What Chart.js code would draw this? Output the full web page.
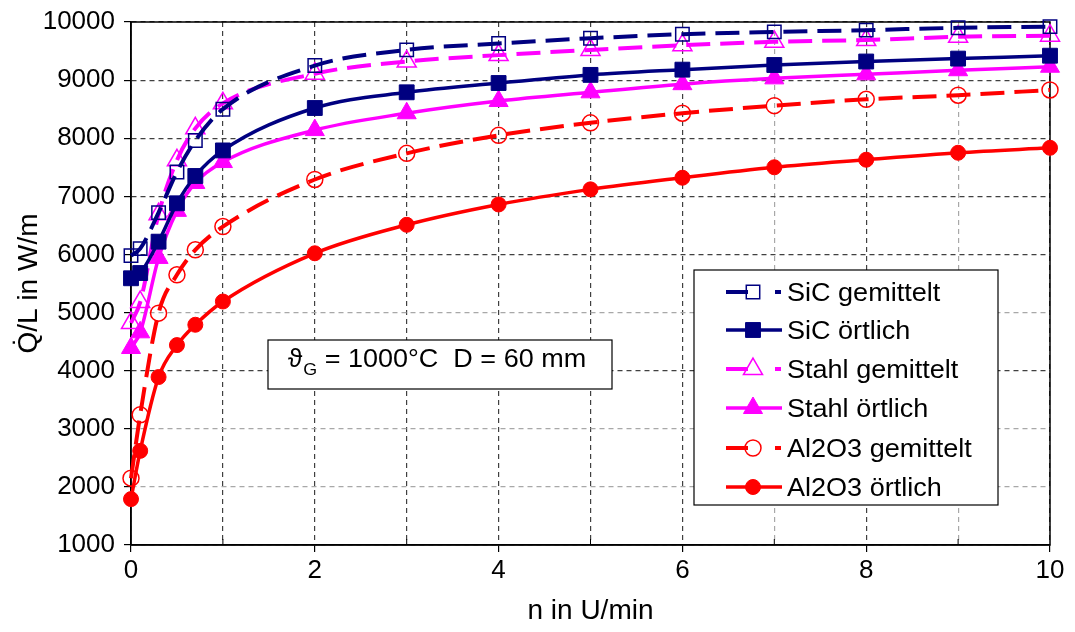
<!DOCTYPE html>
<html>
<head>
<meta charset="utf-8">
<script src="https://cdn.jsdelivr.net/npm/chart.js@4/dist/chart.umd.min.js"></script>
<style>
  html, body { margin: 0; padding: 0; background: #fff; }
  #wrap { width: 1075px; height: 632px; }
</style>
</head>
<body>
<div id="wrap"><canvas id="chart" width="1075" height="632"></canvas></div>
<script>
// Drehzahl n in U/min
const nValues = [0, 0.1, 0.3, 0.5, 0.7, 1, 2, 3, 4, 5, 6, 7, 8, 9, 10];

// Q/L in W/m
const sicGemittelt   = [5980, 6100, 6720, 7420, 7960, 8500, 9250, 9520, 9630, 9720, 9790, 9830, 9860, 9900, 9920];
const sicOertlich    = [5590, 5680, 6220, 6880, 7350, 7790, 8520, 8790, 8950, 9090, 9180, 9260, 9320, 9370, 9420];
const stahlGemittelt = [4820, 5180, 6690, 7620, 8170, 8600, 9110, 9320, 9430, 9520, 9600, 9660, 9690, 9745, 9765];
const stahlOertlich  = [4390, 4660, 5940, 6750, 7230, 7590, 8140, 8430, 8640, 8790, 8930, 9030, 9100, 9170, 9230];
const al2o3Gemittelt = [2150, 3240, 4990, 5650, 6080, 6480, 7290, 7740, 8050, 8265, 8430, 8560, 8670, 8740, 8830];
const al2o3Oertlich  = [1790, 2620, 3890, 4440, 4790, 5190, 6020, 6510, 6860, 7120, 7320, 7500, 7630, 7750, 7835];

const xTickLabels = ['0', '2', '4', '6', '8', '10'];
const yMin = 1000, yMax = 10000, yStep = 1000;

const FONT = "'Liberation Sans', Arial, 'DejaVu Sans', sans-serif";
const NAVY = '#000080', MAGENTA = '#FF00FF', RED = '#FF0000';

function series(label, values, color, style, open, dashed) {
    let radius = 7.5;
    if (style === 'rect') radius = open ? 9.5 : 10.5;
    if (style === 'triangle') radius = 11;
    if (style === 'circle') radius = open ? 8 : 7.5;
    return {
        label: label,
        data: nValues.map(function (n, i) { return {x: n, y: values[i]}; }),
        borderColor: color,
        borderWidth: dashed ? 4 : 3.5,
        borderDash: dashed ? [24, 10] : [],
        pointStyle: style,
        pointRadius: radius,
        pointHoverRadius: radius,
        pointBorderColor: color,
        pointBackgroundColor: open ? 'rgba(0,0,0,0)' : color,
        pointBorderWidth: open ? 1.5 : 1,
        cubicInterpolationMode: 'monotone',
        fill: false,
        clip: false,
        open: open,
        dashed: dashed
    };
}

// draw text stretched horizontally by sx
function drawText(ctx, text, x, y, font, sx) {
    ctx.save();
    ctx.font = font;
    ctx.translate(x, y);
    ctx.scale(sx, 1);
    ctx.fillText(text, 0, 0);
    const w = ctx.measureText(text).width * sx;
    ctx.restore();
    return w;
}

function drawMarker(ctx, ds, x, y) {
    const r = ds.pointRadius;
    ctx.save();
    ctx.setLineDash([]);
    ctx.lineWidth = ds.pointBorderWidth;
    ctx.strokeStyle = ds.pointBorderColor;
    ctx.fillStyle = ds.pointBackgroundColor;
    ctx.beginPath();
    if (ds.pointStyle === 'rect') {
        const s = r * Math.SQRT1_2;
        ctx.rect(x - s, y - s, 2 * s, 2 * s);
    } else if (ds.pointStyle === 'triangle') {
        for (let k = 0; k < 3; k++) {
            const a = k * 2 * Math.PI / 3;
            const px = x + Math.sin(a) * r, py = y - Math.cos(a) * r;
            if (k === 0) ctx.moveTo(px, py); else ctx.lineTo(px, py);
        }
        ctx.closePath();
    } else {
        ctx.arc(x, y, r, 0, 2 * Math.PI);
    }
    if (!ds.open) ctx.fill();
    ctx.stroke();
    ctx.restore();
}

const boxesPlugin = {
    id: 'boxes',
    beforeDatasetsDraw: function (chart) {
        const ctx = chart.ctx;
        const a = chart.chartArea;
        ctx.save();

        // plot frame
        ctx.setLineDash([]);
        ctx.strokeStyle = '#000';
        ctx.lineWidth = 1.5;
        ctx.strokeRect(a.left, a.top, a.right - a.left, a.bottom - a.top);

        // annotation box
        ctx.fillStyle = '#fff';
        ctx.fillRect(268, 340, 344, 49);
        ctx.lineWidth = 1.2;
        ctx.strokeRect(268, 340, 344, 49);
        ctx.fillStyle = '#000';
        ctx.textBaseline = 'alphabetic';
        let x = 288;
        x += drawText(ctx, '\u03D1', x, 367, '25px ' + FONT, 1.05);
        x += drawText(ctx, 'G', x + 1, 375, '17px ' + FONT, 1.05) + 1;
        drawText(ctx, ' = 1000\u00B0C  D = 60 mm', x, 367, '25px ' + FONT, 1.08);

        // legend box
        ctx.fillStyle = '#fff';
        ctx.fillRect(694, 270, 304, 235);
        ctx.strokeStyle = '#000';
        ctx.lineWidth = 1.2;
        ctx.strokeRect(694, 270, 304, 235);

        const rows = [292, 330, 369, 408, 448, 487];
        chart.data.datasets.forEach(function (ds, i) {
            const y = rows[i];
            ctx.save();
            ctx.strokeStyle = ds.borderColor;
            ctx.lineWidth = ds.borderWidth;
            ctx.beginPath();
            if (ds.dashed) {
                ctx.moveTo(726, y); ctx.lineTo(748, y);
                ctx.moveTo(775, y); ctx.lineTo(781, y);
            } else {
                ctx.moveTo(726, y); ctx.lineTo(782, y);
            }
            ctx.stroke();
            ctx.restore();
            drawMarker(ctx, ds, 753, y);
            ctx.fillStyle = '#000';
            drawText(ctx, ds.label, 787, y + 9, '26px ' + FONT, 1.04);
        });

        // minor ticks on the x axis (inside)
        const xs = chart.scales.x;
        ctx.strokeStyle = '#000';
        ctx.lineWidth = 1;
        ctx.beginPath();
        [1, 3, 5, 7, 9].forEach(function (v) {
            const px = xs.getPixelForValue(v);
            ctx.moveTo(px, a.bottom);
            ctx.lineTo(px, a.bottom - 6);
        });
        ctx.stroke();
        ctx.restore();
    }
};

function gridColorX(c) {
    const v = c.tick ? c.tick.value : 0;
    return (v === 7 || v === 9) ? '#a8a8a8' : '#404040';
}
function gridColorY(c) {
    const v = c.tick ? c.tick.value : 0;
    return (v === 2000 || v === 3000 || v === 5000) ? '#a8a8a8' : '#404040';
}

const ctx = document.getElementById('chart').getContext('2d');
new Chart(ctx, {
    type: 'line',
    data: {
        datasets: [
            series('SiC gemittelt', sicGemittelt, NAVY, 'rect', true, true),
            series('SiC örtlich', sicOertlich, NAVY, 'rect', false, false),
            series('Stahl gemittelt', stahlGemittelt, MAGENTA, 'triangle', true, true),
            series('Stahl örtlich', stahlOertlich, MAGENTA, 'triangle', false, false),
            series('Al2O3 gemittelt', al2o3Gemittelt, RED, 'circle', true, true),
            series('Al2O3 örtlich', al2o3Oertlich, RED, 'circle', false, false)
        ]
    },
    options: {
        responsive: false,
        animation: false,
        devicePixelRatio: 1,
        layout: { padding: { top: 22, right: 25, left: 0, bottom: 0 } },
        plugins: {
            legend: { display: false },
            tooltip: { enabled: false }
        },
        scales: {
            x: {
                type: 'linear',
                min: 0,
                max: 10,
                afterFit: function (scale) { scale.height = 87; },
                ticks: {
                    stepSize: 1,
                    autoSkip: false,
                    maxRotation: 0,
                    padding: 3,
                    color: '#000',
                    font: { family: FONT, size: 26 },
                    callback: function (v) {
                        const lbl = String(v);
                        return xTickLabels.indexOf(lbl) >= 0 ? lbl : '';
                    }
                },
                grid: {
                    color: gridColorX,
                    lineWidth: 1.2,
                    tickLength: 7,
                    tickColor: function (c) { return c.tick && c.tick.value % 2 === 0 ? '#000' : 'rgba(0,0,0,0)'; }
                },
                border: { display: true, color: '#000', width: 1.5, dash: [5, 4] },
                title: {
                    display: true,
                    text: 'n in U/min',
                    color: '#000',
                    font: { family: FONT, size: 28 },
                    padding: { top: 0, bottom: 4 }
                }
            },
            y: {
                type: 'linear',
                min: yMin,
                max: yMax,
                afterFit: function (scale) { scale.width = 131; },
                ticks: {
                    stepSize: yStep,
                    padding: 9,
                    color: '#000',
                    font: { family: FONT, size: 26, lineHeight: 1 },
                    callback: function (v) { return String(v); }
                },
                grid: {
                    color: gridColorY,
                    lineWidth: 1.2,
                    tickLength: 7,
                    tickColor: '#000'
                },
                border: { display: true, color: '#000', width: 1.5, dash: [5, 4] },
                title: {
                    display: true,
                    text: 'Q\u0307/L in W/m',
                    color: '#000',
                    font: { family: FONT, size: 28 },
                    padding: { top: 12, bottom: 0 }
                }
            }
        }
    },
    plugins: [boxesPlugin]
});
</script>
</body>
</html>
